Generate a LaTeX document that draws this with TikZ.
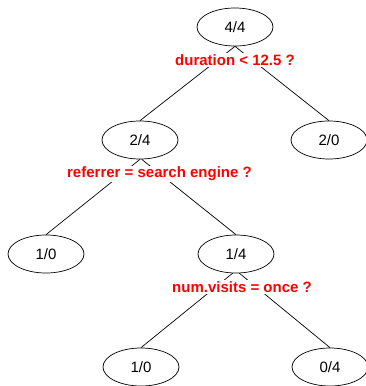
\documentclass[tikz,border=0pt]{standalone}
\usepackage{fontspec}
\setmainfont{Liberation Sans}
\usepackage{tikz}
\usetikzlibrary{shapes.geometric}

\begin{document}
\begin{tikzpicture}[x=1pt,y=-1pt,
  leaf/.style={draw, ellipse, line width=.7pt, minimum width=76pt, minimum height=38pt,
    inner sep=0pt, font=\fontsize{15}{17}\selectfont},
  test/.style={fill=white, inner sep=1pt, text=red, font=\fontsize{15}{17}\selectfont\bfseries}]
\useasboundingbox (0,0) rectangle (365,386);

% counts in each node
\foreach \nm/\x/\y/\a/\b in {R/235/27/4/4, A/140/140/2/4, B/329/140/2/0,
    AA/46/254/1/0, AB/236/254/1/4, ABA/141/367/1/0, ABB/330/367/0/4}
{
    \node[leaf] (\nm) at (\x,\y) {\a/\b};
}

\foreach \p/\c in {R.south/A, R.south/B, A.south/AA, A.275/AB, AB.260/ABA, AB.280/ABB}
    \draw[line width=.7pt] (\p) -- (\c.north);

% the split questions
\node[test] (qR) at (235,60) {duration < 12.5 ?};
\node[test] (qA) at (159.5,174) {referrer = search engine ?};
\node[test] (qAB) at (242,287) {num.visits = once ?};
\end{tikzpicture}
\end{document}
